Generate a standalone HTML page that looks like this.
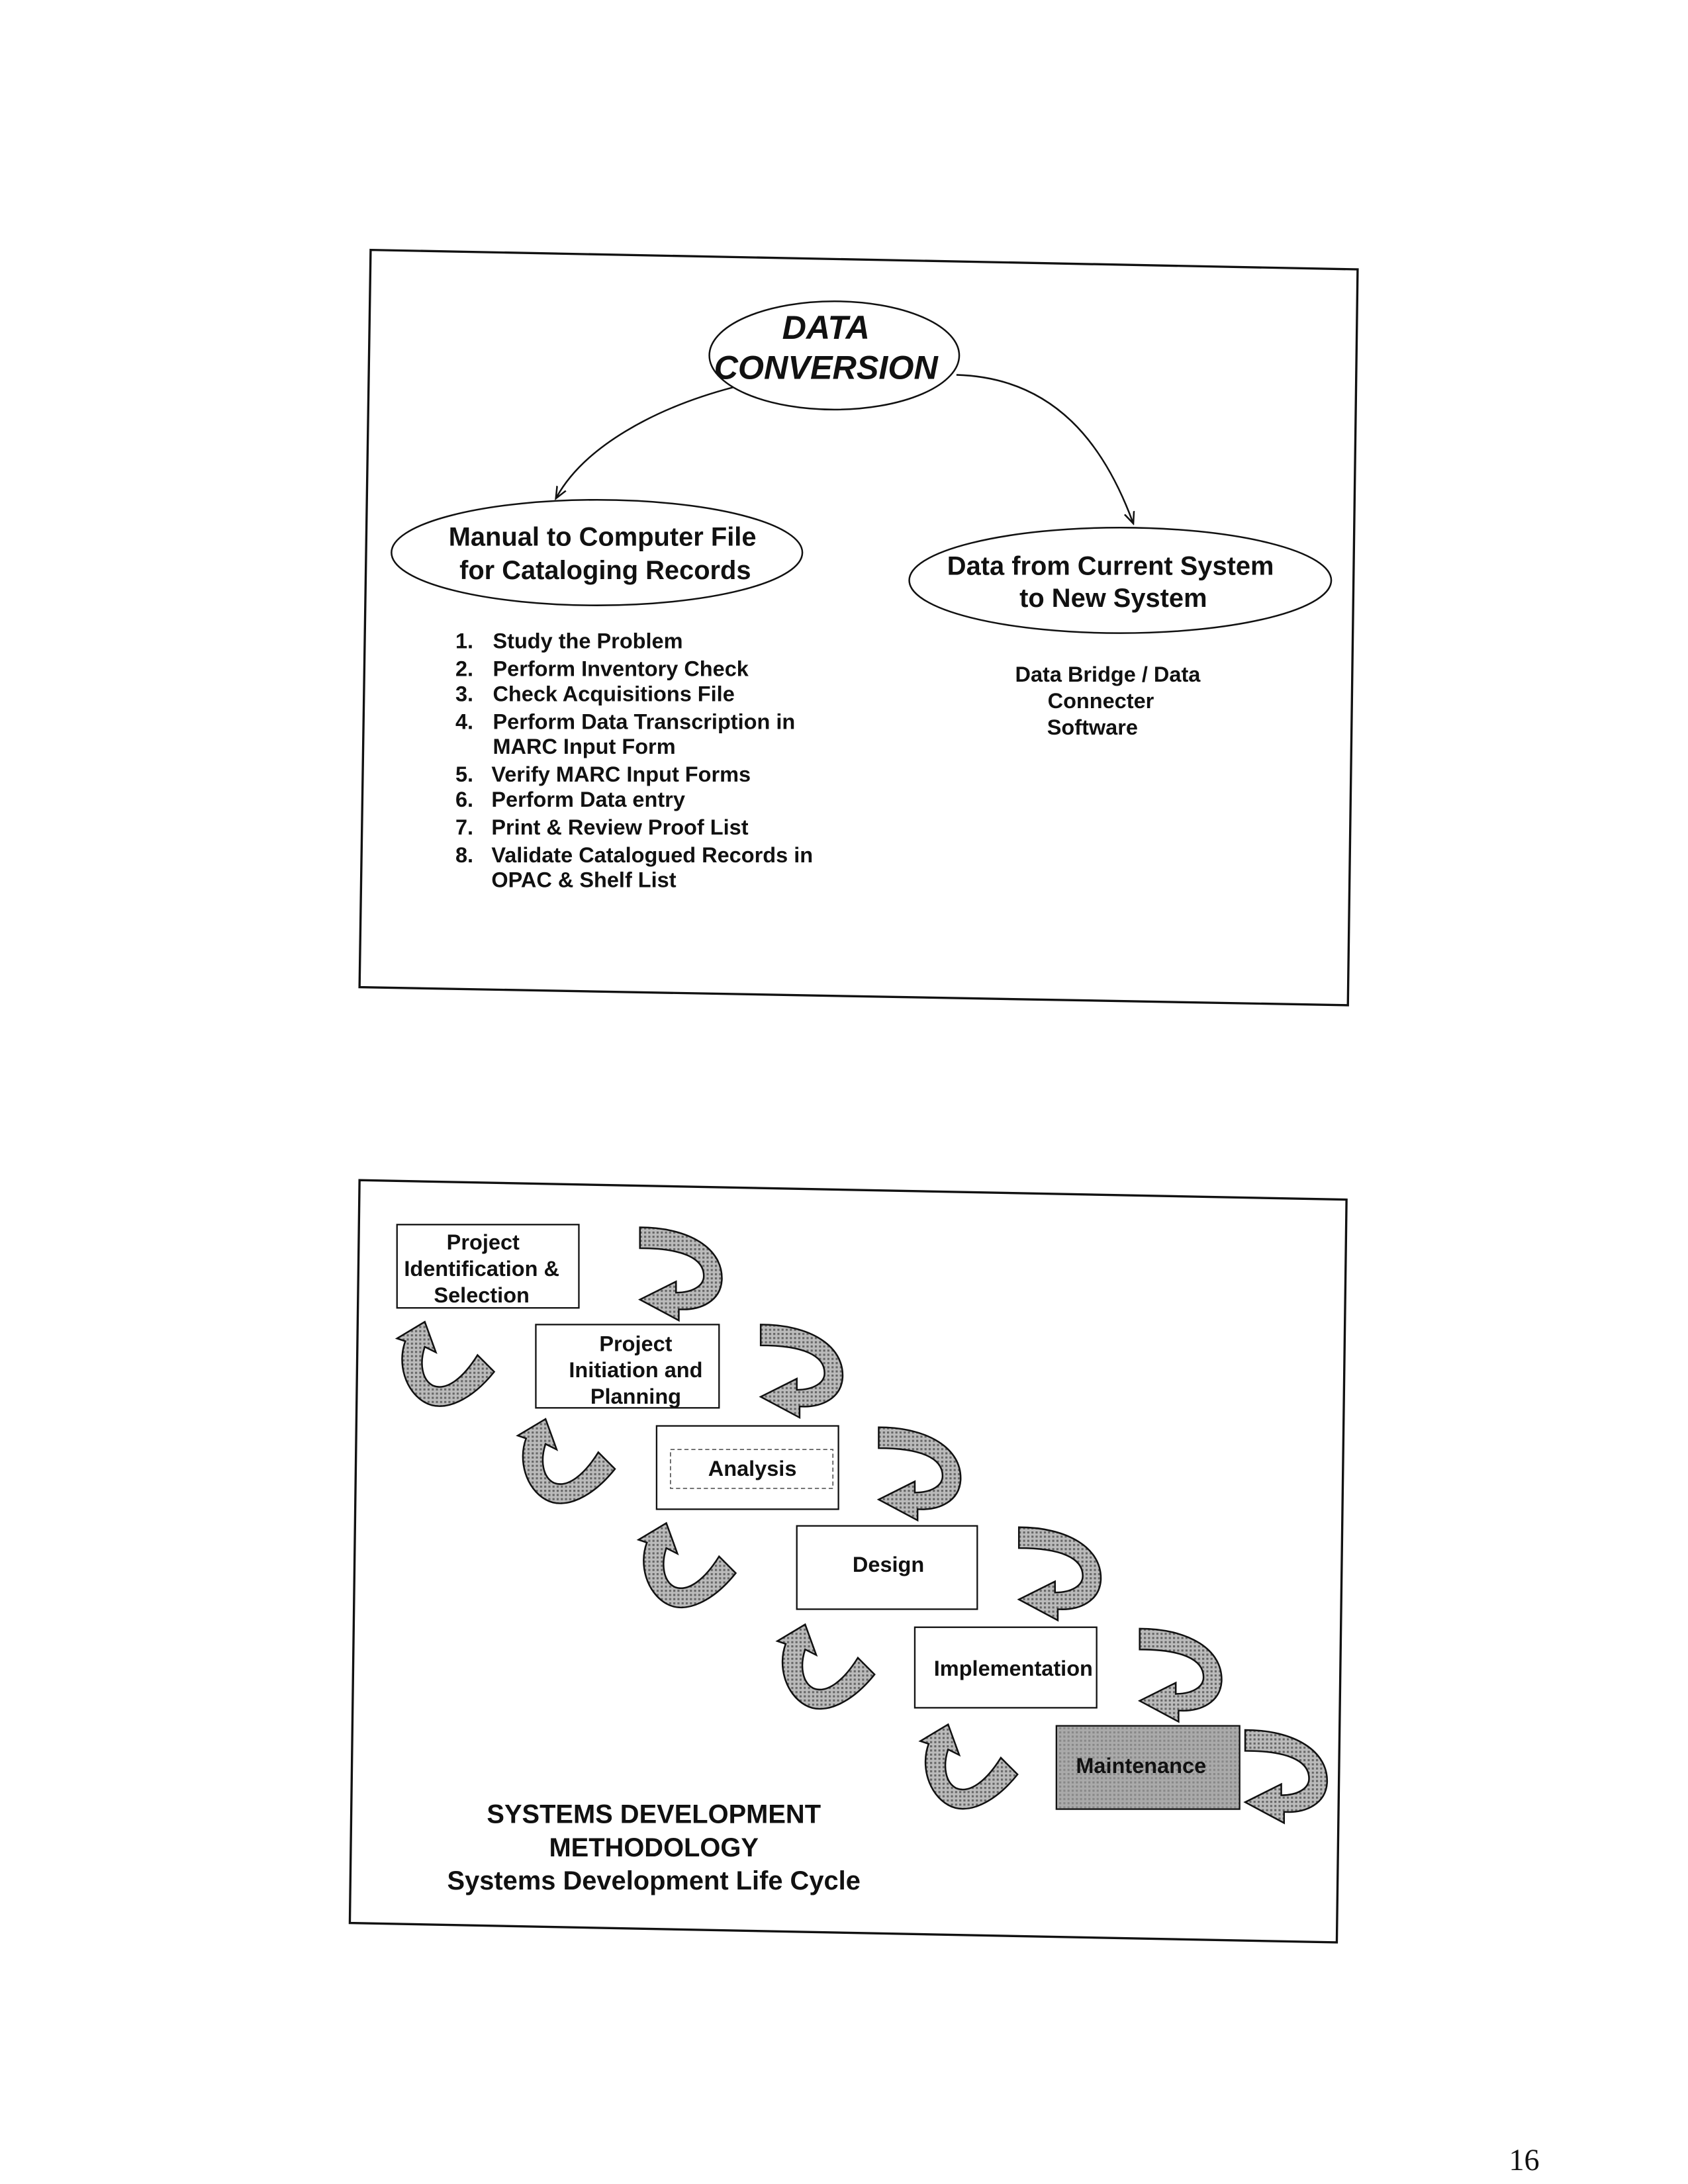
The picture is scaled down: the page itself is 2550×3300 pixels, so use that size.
<!DOCTYPE html>
<html><head><meta charset="utf-8"><style>
html,body{margin:0;padding:0;background:#fff}
svg{display:block}
text{font-family:"Liberation Sans",sans-serif;font-weight:bold;fill:#111}
</style></head><body>
<svg width="2550" height="3300" viewBox="0 0 1216 1573" preserveAspectRatio="none" xmlns="http://www.w3.org/2000/svg">
<defs>
<pattern id="hat" width="3" height="3" patternUnits="userSpaceOnUse">
<rect width="3" height="3" fill="#bbb"/><rect width="1.5" height="1.5" fill="#666"/>
</pattern>
<pattern id="hat2" width="3" height="3" patternUnits="userSpaceOnUse">
<rect width="3" height="3" fill="#aaa"/><rect width="1.5" height="1.5" fill="#888"/>
</pattern>
<marker id="ah" markerWidth="8" markerHeight="8" refX="6" refY="4" orient="auto"><path d="M0,1 L7,4 L0,7" fill="none" stroke="#111" stroke-width="1"/></marker>
<g id="ra"><path d="M0,0 C35,0 60,15 59,38 C58,53 44,60 28,59 L28,67 L0,52 L26,39 L26,47 C38,47 46,42 46,35 C46,22 30,15 0,15 Z" fill="url(#hat)" stroke="#111" stroke-width="1.2"/></g>
<g id="la"><path d="M60,24 L72,36 C56,56 36,66 22,58 C8,50 2,30 8,14 L2,12 L22,0 L30,22 L22,18 C18,30 20,42 28,46 C38,50 50,40 60,24 Z" fill="url(#hat)" stroke="#111" stroke-width="1.2"/></g>
</defs>
<g transform="translate(1,2)">
<!-- top slide -->
<polygon points="266,178 977,192 970,722 258,709" fill="none" stroke="#111" stroke-width="1.6"/>
<ellipse cx="600" cy="254" rx="90" ry="39" fill="none" stroke="#111" stroke-width="1.2"/>
<text x="594" y="242" font-size="24" font-style="italic" text-anchor="middle">DATA</text>
<text x="594" y="271" font-size="24" font-style="italic" text-anchor="middle">CONVERSION</text>
<path d="M527,277 C470,292 420,320 400,356" fill="none" stroke="#111" stroke-width="1.2" marker-end="url(#ah)"/>
<path d="M688,268 C760,270 795,320 815,374" fill="none" stroke="#111" stroke-width="1.2" marker-end="url(#ah)"/>
<ellipse cx="429" cy="396" rx="148" ry="38" fill="none" stroke="#111" stroke-width="1.2"/>
<text x="433" y="391" font-size="19" text-anchor="middle">Manual to Computer File</text>
<text x="435" y="415" font-size="19" text-anchor="middle">for Cataloging Records</text>
<ellipse cx="806" cy="416" rx="152" ry="38" fill="none" stroke="#111" stroke-width="1.2"/>
<text x="799" y="412" font-size="19" text-anchor="middle">Data from Current System</text>
<text x="801" y="435" font-size="19" text-anchor="middle">to New System</text>
<g font-size="15.5">
<text x="340" y="465" text-anchor="end">1.</text><text x="354" y="465">Study the Problem</text>
<text x="340" y="485" text-anchor="end">2.</text><text x="354" y="485">Perform Inventory Check</text>
<text x="340" y="503" text-anchor="end">3.</text><text x="354" y="503">Check Acquisitions File</text>
<text x="340" y="523" text-anchor="end">4.</text><text x="354" y="523">Perform Data Transcription in</text>
<text x="354" y="541">MARC Input Form</text>
<text x="340" y="561" text-anchor="end">5.</text><text x="353" y="561">Verify MARC Input Forms</text>
<text x="340" y="579" text-anchor="end">6.</text><text x="353" y="579">Perform Data entry</text>
<text x="340" y="599" text-anchor="end">7.</text><text x="353" y="599">Print &amp; Review Proof List</text>
<text x="340" y="619" text-anchor="end">8.</text><text x="353" y="619">Validate Catalogued Records in</text>
<text x="353" y="637">OPAC &amp; Shelf List</text>
<text x="797" y="489" text-anchor="middle">Data Bridge  / Data</text>
<text x="792" y="508" text-anchor="middle">Connecter</text>
<text x="786" y="527" text-anchor="middle">Software</text>
</g>

<!-- bottom slide -->
<polygon points="258,848 969,862 962,1397 251,1383" fill="none" stroke="#111" stroke-width="1.6"/>
<g fill="#fff" stroke="#111" stroke-width="1.1">
<rect x="285" y="880" width="131" height="60"/>
<rect x="385" y="952" width="132" height="60"/>
<rect x="472" y="1025" width="131" height="60"/>
<rect x="573" y="1097" width="130" height="60"/>
<rect x="658" y="1170" width="131" height="58"/>
<rect x="760" y="1241" width="132" height="60" fill="url(#hat2)"/>
</g>
<rect x="482" y="1042" width="117" height="28" fill="none" stroke="#555" stroke-width="0.8" stroke-dasharray="3,2"/>
<g font-size="15.5" text-anchor="middle">
<text x="347" y="898">Project</text>
<text x="346" y="917">Identification &amp;</text>
<text x="346" y="936">Selection</text>
<text x="457" y="971">Project</text>
<text x="457" y="990">Initiation and</text>
<text x="457" y="1009">Planning</text>
<text x="541" y="1061">Analysis</text>
<text x="639" y="1130">Design</text>
<text x="729" y="1205">Implementation</text>
<text x="821" y="1275">Maintenance</text>
</g>
<use href="#ra" x="460" y="882"/>
<use href="#ra" x="547" y="952"/>
<use href="#ra" x="632" y="1026"/>
<use href="#ra" x="733" y="1098"/>
<use href="#ra" x="820" y="1171"/>
<use href="#ra" x="896" y="1244"/>
<use href="#la" x="283" y="950"/>
<use href="#la" x="370" y="1020"/>
<use href="#la" x="457" y="1095"/>
<use href="#la" x="557" y="1168"/>
<use href="#la" x="660" y="1240"/>
<g font-size="19" text-anchor="middle">
<text x="470" y="1311">SYSTEMS DEVELOPMENT</text>
<text x="470" y="1335">METHODOLOGY</text>
<text x="470" y="1359">Systems Development Life Cycle</text>
</g>
<text x="1097" y="1561" font-size="22" text-anchor="middle" style="font-family:'Liberation Serif',serif;font-weight:normal">16</text>
</g>
</svg>
</body></html>
